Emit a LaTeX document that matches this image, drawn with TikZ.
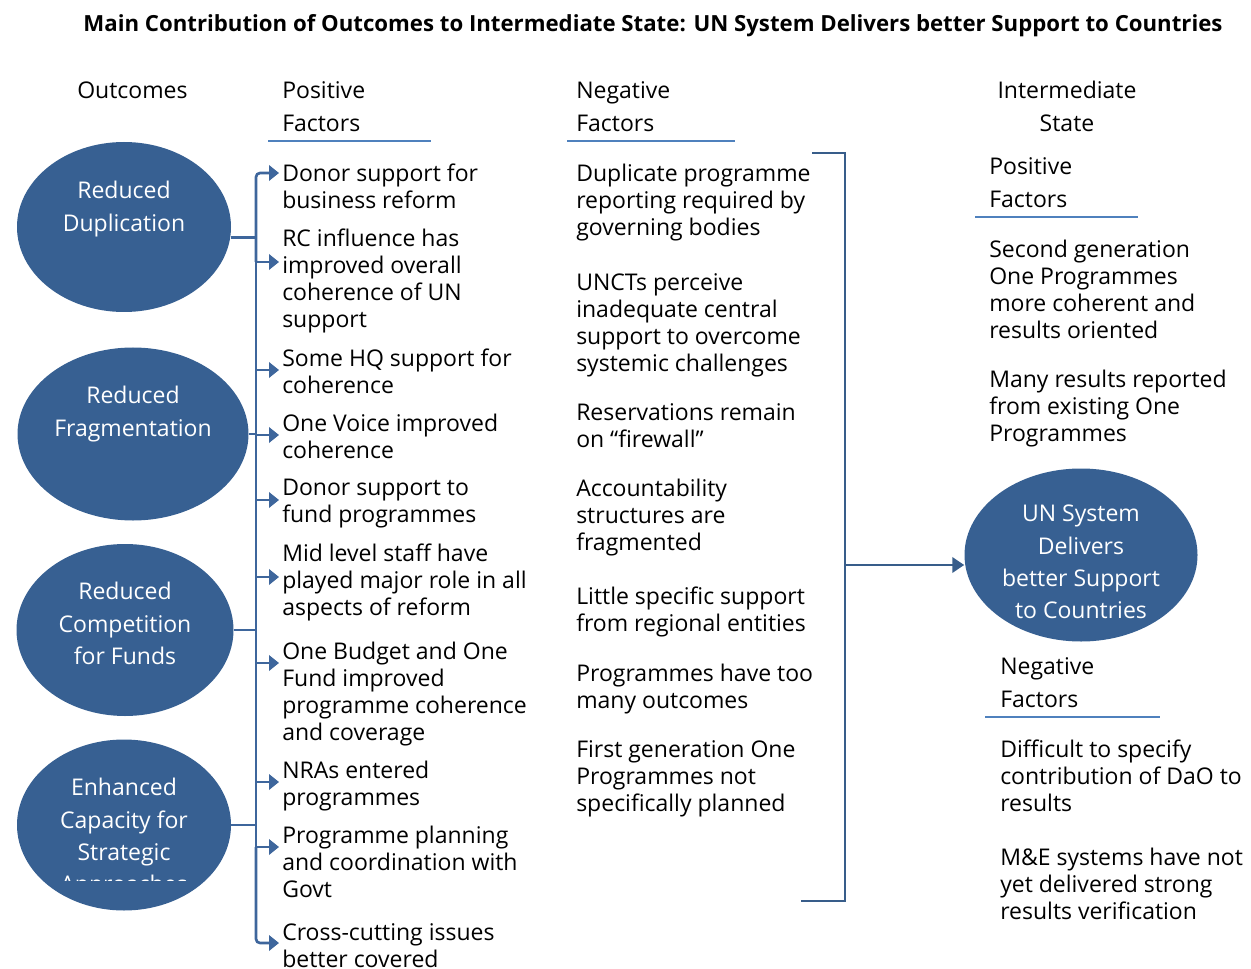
\documentclass[tikz,border=0pt]{standalone}
\usepackage{fontspec}
\setmainfont{Open Sans}
\usetikzlibrary{arrows.meta,shapes.geometric}

\definecolor{outblue}{RGB}{55,96,146}
\definecolor{linkblue}{RGB}{62,102,156}
\definecolor{ruleblue}{RGB}{79,129,189}
\definecolor{brackblue}{RGB}{56,93,138}

\tikzset{
  outcome/.style={ellipse, fill=outblue, inner sep=0pt},
  intext/.style={anchor=north, align=center, inner sep=0pt, text=white,
    font=\fontsize{17.25}{24.2}\selectfont, execute at begin node=\strut},
  heading/.style={anchor=north west, align=left, inner sep=0pt,
    font=\fontsize{17.25}{24.75}\selectfont, execute at begin node=\strut},
  factor/.style={anchor=north west, align=left, inner sep=0pt,
    font=\fontsize{17.25}{20.25}\selectfont, execute at begin node=\strut},
  link/.style={linkblue, line width=2pt},
  arrow/.style={link, -{Triangle[length=7.5pt,width=11.5pt]}},
  underline/.style={ruleblue, line width=0.9pt}
}

\begin{document}
\begin{tikzpicture}[x=0.75pt,y=-0.75pt]
  \useasboundingbox (0,0) rectangle (1251,969);

  % title
  \node[anchor=base, inner sep=0pt, font=\bfseries\fontsize{16.65}{18}\selectfont] (title) at (653,32)
    {Main Contribution of Outcomes to Intermediate State: UN System Delivers better Support to Countries};

  % column headings
  \node[heading] (hout) at (77,75) {Outcomes};
  \node[heading] (hpos) at (282,81) {Positive\\Factors};
  \node[heading] (hneg) at (576,81) {Negative\\Factors};
  \node[heading, anchor=north, align=center] (hint) at (1067,81) {Intermediate\\State};
  \node[heading] (hrpos) at (989,157) {Positive\\Factors};
  \node[heading] (hrneg) at (1000,657) {Negative\\Factors};

  \draw[underline] (268,141) -- (431,141);
  \draw[underline] (567,141) -- (735,141);
  \draw[underline] (975,217) -- (1138,217);
  \draw[underline] (985,717) -- (1160,717);

  % outcomes
  \node[outcome, minimum width=160.5pt, minimum height=127.5pt] (o1) at (124,227) {};
  \node[outcome, minimum width=173.25pt, minimum height=129.75pt] (o2) at (133,434) {};
  \node[outcome, minimum width=162.75pt, minimum height=129pt] (o3) at (125,630) {};
  \node[outcome, minimum width=160.5pt, minimum height=128.25pt] (o4) at (124,825) {};

  \node[intext] (t1) at (124,181) {Reduced\\Duplication};
  \node[intext] (t2) at (133,386) {Reduced\\Fragmentation};
  \node[intext] (t3) at (125,582) {Reduced\\Competition\\for Funds};
  \begin{scope}
    \clip (0,0) rectangle (1251,880);
    \node[intext] (t4) at (124,778) {Enhanced\\Capacity for\\Strategic\\Approaches};
  \end{scope}

  % positive factors
  \node[factor] (p1) at (282,164) {Donor support for\\business reform};
  \node[factor] (p2) at (282,229) {RC influence has\\improved overall\\coherence of UN\\support};
  \node[factor] (p3) at (282,349) {Some HQ support for\\coherence};
  \node[factor] (p4) at (282,414) {One Voice improved\\coherence};
  \node[factor] (p5) at (282,479) {Donor support to\\fund programmes};
  \node[factor] (p6) at (282,544) {Mid level staff have\\played major role in all\\aspects of reform};
  \node[factor] (p7) at (282,642) {One Budget and One\\Fund improved\\programme coherence\\and coverage};
  \node[factor] (p8) at (282,761) {NRAs entered\\programmes};
  \node[factor] (p9) at (282,826) {Programme planning\\and coordination with\\Govt};
  \node[factor] (p10) at (282,923) {Cross-cutting issues\\better covered};

  % negative factors
  \node[factor] (n1) at (576,164) {Duplicate programme\\reporting required by\\governing bodies};
  \node[factor] (n2) at (576,273) {UNCTs perceive\\inadequate central\\support to overcome\\systemic challenges};
  \node[factor] (n3) at (576,403) {Reservations remain\\on “firewall”};
  \node[factor] (n4) at (576,479) {Accountability\\structures are\\fragmented};
  \node[factor] (n5) at (576,587) {Little specific support\\from regional entities};
  \node[factor] (n6) at (576,664) {Programmes have too\\many outcomes};
  \node[factor] (n7) at (576,740) {First generation One\\Programmes not\\specifically planned};

  % intermediate state
  \node[outcome, minimum width=174.75pt, minimum height=129.75pt] (ui) at (1081,555) {};
  \node[intext] (tui) at (1081,505) {UN System\\Delivers\\better Support\\to Countries};

  \node[factor] (r1) at (989,240) {Second generation\\One Programmes\\more coherent and\\results oriented};
  \node[factor] (r2) at (989,370) {Many results reported\\from existing One\\Programmes};
  \node[factor] (r3) at (1000,740) {Difficult to specify\\contribution of DaO to\\results};
  \node[factor] (r4) at (1000,848) {M\&E systems have not\\yet delivered strong\\results verification};

  % arrow tips and trunk
  \coordinate (trunk) at (256,0);
  \coordinate (a1) at (279,173);
  \coordinate (a2) at (279,262);
  \coordinate (a3) at (279,370);
  \coordinate (a4) at (279,435);
  \coordinate (a5) at (279,500);
  \coordinate (a6) at (279,577);
  \coordinate (a7) at (279,663);
  \coordinate (a8) at (279,782);
  \coordinate (a9) at (279,847);
  \coordinate (a10) at (279,943);
  \coordinate (c1) at ([yshift=-8pt]o1.east);

  \draw[link] (c1) -- (trunk |- c1);
  \draw[link] (o2.east) -- (trunk |- o2.east);
  \draw[link] (o3.east) -- (trunk |- o3.east);
  \draw[link] (o4.east) -- (trunk |- o4.east);

  \draw[link] (trunk |- a2) -- (trunk |- a9);
  \draw[arrow, rounded corners=3pt] (trunk |- a2) |- (a1);
  \draw[arrow, rounded corners=3pt] (trunk |- a9) |- (a10);
  \draw[arrow] (trunk |- a2) -- (a2);
  \draw[arrow] (trunk |- a3) -- (a3);
  \draw[arrow] (trunk |- a4) -- (a4);
  \draw[arrow] (trunk |- a5) -- (a5);
  \draw[arrow] (trunk |- a6) -- (a6);
  \draw[arrow] (trunk |- a7) -- (a7);
  \draw[arrow] (trunk |- a8) -- (a8);
  \draw[arrow] (trunk |- a9) -- (a9);

  % bracket round the negative factors
  \draw[brackblue, line width=1.8pt] (812,153) -- (845,153) -- (845,901) -- (801,901);
  \coordinate (bk) at (845,565);
  \draw[arrow, brackblue, -{Triangle[length=9pt,width=11.5pt]}] (bk) -- (bk -| ui.west);
\end{tikzpicture}
\end{document}
